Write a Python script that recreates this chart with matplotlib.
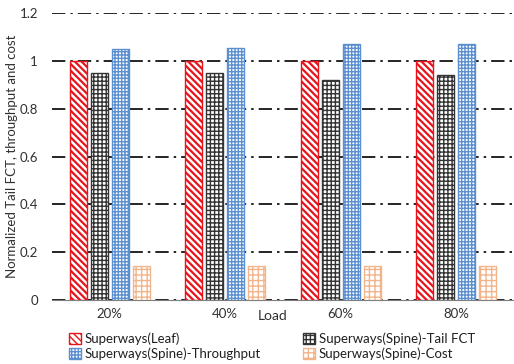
import numpy as np
import matplotlib
matplotlib.use('Agg')
import matplotlib.pyplot as plt

plt.rcParams['font.family'] = ['Lato', 'DejaVu Sans']
plt.rcParams['hatch.linewidth'] = 1.0

# data
loads = ['20%', '40%', '60%', '80%']
leaf = [1.0, 1.0, 1.0, 1.0]
spine_fct = [0.95, 0.95, 0.92, 0.94]
spine_thr = [1.05, 1.055, 1.07, 1.07]
spine_cost = [0.14, 0.14, 0.14, 0.14]

series = [
    ('Superways(Leaf)', leaf, '#e8141b', '\\' * 5),
    ('Superways(Spine)-Tail FCT', spine_fct, '#333333', '++++'),
    ('Superways(Spine)-Throughput', spine_thr, '#5b8fd0', '+++++'),
    ('Superways(Spine)-Cost', spine_cost, '#f2b48a', '+++'),
]

fig = plt.figure(figsize=(5.14, 3.64), dpi=100)
ax = fig.add_axes([0.101, 0.176, 0.899, 0.788])

x = np.arange(len(loads))
w = 0.147
step = 0.182
bars = []
for i, (name, vals, col, hat) in enumerate(series):
    b = ax.bar(x + (i - 1.5) * step, vals, w, facecolor='white', edgecolor=col,
               hatch=hat, linewidth=1.0, label=name, zorder=3)
    if i == 0:
        for p in b:
            try:
                p.set_hatch_linewidth(1.6)
            except AttributeError:
                pass
    bars.append(b)

ax.set_xlim(-0.5, len(loads) - 0.5)
ax.set_ylim(0, 1.2)
ax.set_yticks([0, 0.2, 0.4, 0.6, 0.8, 1.0, 1.2])
ax.set_yticklabels(['0', '0.2', '0.4', '0.6', '0.8', '1', '1.2'])
ax.set_xticks(x)
ax.set_xticklabels(loads)
ax.tick_params(length=0, labelsize=9.5, colors='#303030')
ax.tick_params(axis='y', pad=10)
ax.tick_params(axis='x', pad=6)
ax.yaxis.grid(True, linestyle=(0, (8, 3, 1.5, 3)), color='black', linewidth=1.2, zorder=0)
for s in ['top', 'right', 'left']:
    ax.spines[s].set_visible(False)
ax.spines['bottom'].set_color('#7f7f7f')

ax.set_ylabel('Normalized Tail FCT, throughput and cost', fontsize=9.5,
              color='#303030', labelpad=1)
fig.text(0.531, 0.12, 'Load', fontsize=10, color='#303030', ha='center')

# row order: Leaf, Tail FCT / Throughput, Cost
order = [0, 2, 1, 3]
ax.legend([bars[k] for k in order], [series[k][0] for k in order],
          loc='upper left', bbox_to_anchor=(0.025, -0.095), ncol=2, frameon=False,
          fontsize=9.5, handlelength=0.9, handleheight=0.9, handletextpad=0.3,
          columnspacing=3.2, labelspacing=0.2, borderaxespad=0,
          labelcolor='#202020')

fig.savefig('out.png', dpi=100)
